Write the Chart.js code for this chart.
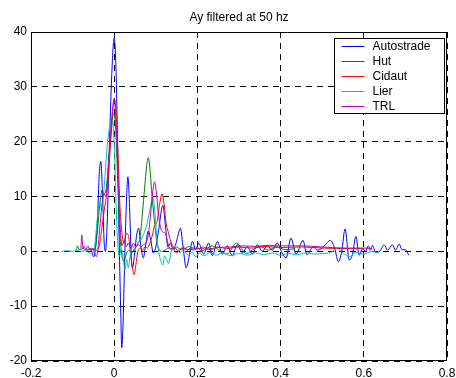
<!DOCTYPE html>
<html>
<head>
<meta charset="utf-8">
<script src="https://cdn.jsdelivr.net/npm/chart.js@4.4.1/dist/chart.umd.min.js"></script>
<style>
  html, body { margin: 0; padding: 0; background: #fff; }
  #wrap { width: 456px; height: 378px; }
</style>
</head>
<body>
<div id="wrap"><canvas id="chart" width="456" height="378"></canvas></div>
<script>
const titleText = 'Ay filtered at 50 hz';
const seriesNames = ['Autostrade', 'Hut', 'Cidaut', 'Lier', 'TRL'];
const seriesColors = ['#0000ff', '#008000', '#ff0000', '#00bfbf', '#bf00bf'];
const xTickLabels = ['-0.2', '0', '0.2', '0.4', '0.6', '0.8'];
const yTickLabels = ['-20', '-10', '0', '10', '20', '30', '40'];

// [time (s), Ay] samples for each test
const autostrade = [
  [-0.065, 0.2], [-0.058, 0.5], [-0.054, 0.0], [-0.050, -1.0], [-0.045, 0.5], [-0.040, 6], [-0.036, 14], [-0.032, 16.4],
  [-0.028, 10], [-0.024, 1.5], [-0.021, 0], [-0.017, 5], [-0.012, 18], [-0.006, 32], [0, 38.9], [0.004, 34],
  [0.008, 20], [0.012, 2], [0.016, -12], [0.018, -17.6], [0.021, -14], [0.025, -2], [0.028, 6], [0.033, 13.6],
  [0.037, 8], [0.041, -1], [0.044, -3], [0.049, -0.5], [0.054, 3], [0.059, 4.2], [0.064, 1], [0.070, -1.2],
  [0.075, 0.8], [0.082, 3.7], [0.088, 2], [0.094, -0.3], [0.100, 0.8], [0.107, 4], [0.117, 8.4], [0.124, 4],
  [0.129, 0.8], [0.135, 1.5], [0.141, 0.5], [0.147, 1.1], [0.152, 2.5], [0.159, 4.2], [0.166, 0.5], [0.173, -3],
  [0.180, -1], [0.188, 1.8], [0.196, 0.3], [0.203, 1.5], [0.215, -0.5], [0.227, 1.5], [0.236, -0.8], [0.248, 1.8],
  [0.260, -0.5], [0.272, 1.0], [0.284, -0.8], [0.296, 1.2], [0.308, -0.3], [0.320, 0.8], [0.332, -0.5], [0.344, 1.2],
  [0.356, 0.0], [0.368, 1.0], [0.380, 0.2], [0.392, 1.5], [0.403, -0.2], [0.413, -1.2], [0.425, 2.4], [0.437, -0.5],
  [0.454, 2.0], [0.463, -0.6], [0.478, 0.8], [0.489, 0.2], [0.504, 0.9], [0.520, 2.0], [0.530, 0.5], [0.539, -1.9],
  [0.547, 0.0], [0.555, 4.1], [0.565, -1.6], [0.573, -0.5], [0.581, 2.7], [0.589, -0.7], [0.597, 0.5], [0.604, 0.0],
  [0.611, 1.0], [0.616, 0.2], [0.621, 1.1], [0.628, -0.2], [0.638, 0.0], [0.649, 1.2], [0.657, 0.2], [0.669, 1.2],
  [0.676, 0.2], [0.685, 1.3], [0.692, 0.3], [0.700, 0.3], [0.708, -0.7]
];

const hut = [
  [-0.091, 0.3], [-0.088, 1.0], [-0.084, 0.3], [-0.075, 0.5], [-0.066, 0.2], [-0.058, 0.4], [-0.050, 0.3], [-0.045, 0.8],
  [-0.040, 4], [-0.034, 9], [-0.029, 11.2], [-0.025, 10.5], [-0.020, 11], [-0.014, 16], [-0.007, 22], [-0.002, 25],
  [0.003, 23], [0.008, 14], [0.013, 4], [0.018, -0.5], [0.023, -1.8], [0.029, -0.5], [0.035, 0.2], [0.042, -0.3],
  [0.049, 0.5], [0.056, 1.2], [0.062, 2.5], [0.068, 7], [0.073, 11.5], [0.078, 15.5], [0.082, 17.1], [0.086, 15],
  [0.091, 10], [0.096, 6], [0.102, 2], [0.107, 0.5], [0.114, 0], [0.122, 0.2], [0.130, 0.6], [0.140, 0.3],
  [0.150, 0.8], [0.160, 0.4], [0.170, 0.5], [0.180, 0.9], [0.190, 0.2], [0.200, 0.6], [0.210, 0.1], [0.222, 0.5],
  [0.236, 1.0], [0.250, 0.3], [0.271, -0.5], [0.294, 1.5], [0.318, -0.4], [0.337, 0.5], [0.354, 0.8], [0.370, 0.2],
  [0.389, 0.8], [0.413, 0.3], [0.435, 0.5]
];

const cidaut = [
  [-0.060, 0.3], [-0.050, 0.5], [-0.042, 0.2], [-0.036, 1], [-0.030, 4], [-0.024, 7.5], [-0.018, 10.5], [-0.012, 16],
  [-0.006, 23], [0, 27.9], [0.004, 26], [0.009, 18], [0.014, 8], [0.019, 3], [0.023, 1.5], [0.030, 3.3],
  [0.035, 2.5], [0.040, -1], [0.045, -3.5], [0.048, -4.3], [0.052, -2.5], [0.057, 0], [0.062, 0.6], [0.068, 0.2],
  [0.074, 0.8], [0.080, 0.6], [0.086, 1.5], [0.092, 3], [0.096, 4.5], [0.103, 5.4], [0.109, 8.5], [0.115, 10.5],
  [0.120, 8.5], [0.125, 5], [0.130, 3.5], [0.136, 1.8], [0.142, 0.8], [0.150, -0.3], [0.158, 0.3], [0.166, 0.8],
  [0.175, 0.2], [0.185, 0.7], [0.200, 0.4], [0.215, 0.8], [0.230, 0.3], [0.250, 0.8], [0.270, 0.5], [0.300, 0.8],
  [0.330, 0.6], [0.360, 0.9], [0.400, 0.7], [0.450, 0.8], [0.500, 0.6], [0.550, 0.5], [0.600, 0.5]
];

const lier = [
  [-0.127, 0], [-0.115, 0.1], [-0.100, 0], [-0.090, 0.2], [-0.080, 0], [-0.070, 0.1], [-0.060, -0.3], [-0.054, -0.5],
  [-0.048, 0.5], [-0.043, 4], [-0.038, 8], [-0.034, 9], [-0.030, 7.5], [-0.026, 10], [-0.020, 16], [-0.016, 20],
  [-0.010, 23], [-0.005, 24], [0, 20], [0.004, 10], [0.008, 2], [0.012, -1], [0.017, 0.5], [0.022, -1.5],
  [0.026, -3.4], [0.030, -1.5], [0.034, -3.0], [0.038, -1], [0.043, 1.0], [0.050, 0.4], [0.056, 1.5], [0.063, 2],
  [0.070, 3], [0.077, 4.5], [0.083, 6.5], [0.088, 8.5], [0.093, 10], [0.098, 7], [0.103, 2], [0.108, -0.5],
  [0.113, -2], [0.117, -2.5], [0.121, -0.8], [0.126, -1.5], [0.131, -2.2], [0.137, 0], [0.143, 0.8], [0.150, 0.3],
  [0.158, -0.2], [0.166, 0.2], [0.178, -0.7], [0.188, -0.2], [0.196, -1], [0.205, -0.3], [0.215, -0.8], [0.230, -0.2],
  [0.245, -0.7], [0.260, -0.3], [0.280, -0.8], [0.300, -0.4], [0.320, -0.7], [0.340, -0.3], [0.360, -0.6], [0.380, -0.3],
  [0.400, -0.7], [0.420, -0.4], [0.440, -0.6], [0.460, -0.3], [0.480, -0.5], [0.500, -0.4], [0.520, -0.2], [0.535, 0.5],
  [0.550, -0.3], [0.565, -1], [0.580, -0.2], [0.600, -0.5], [0.620, 0], [0.635, -0.3]
];

const trl = [
  [-0.080, 0.5], [-0.078, 3], [-0.075, 0.5], [-0.072, 1], [-0.068, 0.3], [-0.063, 1], [-0.058, 0.2], [-0.052, 0.5],
  [-0.046, -0.5], [-0.043, -1.0], [-0.039, 0.5], [-0.035, 4], [-0.030, 8], [-0.025, 10.6], [-0.021, 10], [-0.017, 12],
  [-0.011, 19], [-0.005, 25], [0, 27.6], [0.004, 24], [0.009, 14], [0.014, 5], [0.019, 1], [0.024, 2],
  [0.029, 0.8], [0.034, 1.5], [0.040, 0.5], [0.046, 1.5], [0.052, 0.8], [0.058, 1.2], [0.064, 0.8], [0.070, 1.2],
  [0.076, 1.5], [0.082, 3], [0.088, 7.2], [0.093, 11], [0.097, 12.7], [0.101, 11], [0.106, 7], [0.111, 4.5],
  [0.117, 3.5], [0.123, 3.3], [0.129, 1.5], [0.135, 0.5], [0.145, 0.6], [0.155, 0.2], [0.165, 0.5], [0.180, 0.3],
  [0.200, 0.6], [0.220, 0.4], [0.250, 0.7], [0.280, 0.8], [0.310, 1.0], [0.340, 0.9], [0.370, 1.1], [0.400, 1.0],
  [0.450, 1.0], [0.500, 0.8], [0.550, 0.6], [0.600, 0.6], [0.620, 0.5]
];

const allSeries = [autostrade, hut, cidaut, lier, trl];
const fontFamily = '"Liberation Sans", Arial, sans-serif';

// axes box, title and boxed legend drawn the old matlab way
const matlabFrame = {
  id: 'matlabFrame',
  afterDraw(chart) {
    const { ctx, chartArea: a } = chart;
    ctx.save();
    ctx.strokeStyle = '#000';
    ctx.lineWidth = 1;
    ctx.setLineDash([]);
    ctx.strokeRect(Math.round(a.left) + 0.5, Math.round(a.top) + 0.5,
      Math.round(a.right - a.left) - 1, Math.round(a.bottom - a.top) - 1);

    ctx.fillStyle = '#000';
    ctx.font = '12px ' + fontFamily;
    ctx.textAlign = 'center';
    ctx.textBaseline = 'middle';
    ctx.fillText(titleText, (a.left + a.right) / 2, 18);

    // legend box in the top right corner
    const bx = Math.round(a.right) - 112.5, by = Math.round(a.top) + 6.5;
    const bw = 110, bh = 75, rowH = 14.9;
    ctx.fillStyle = '#fff';
    ctx.fillRect(bx, by, bw, bh);
    ctx.strokeRect(bx, by, bw, bh);
    ctx.textAlign = 'left';
    chart.data.datasets.forEach((ds, i) => {
      const y = Math.round(by + 7.5 + i * rowH) + 0.5;
      ctx.strokeStyle = ds.borderColor;
      ctx.beginPath();
      ctx.moveTo(bx + 7, y);
      ctx.lineTo(bx + 30, y);
      ctx.stroke();
      ctx.fillStyle = '#000';
      ctx.fillText(ds.label, bx + 38, y);
    });
    ctx.restore();
  }
};

const datasets = seriesNames.map((name, i) => ({
  label: name,
  data: allSeries[i].map(p => ({ x: p[0], y: p[1] })),
  borderColor: seriesColors[i],
  borderWidth: 1,
  pointRadius: 0,
  cubicInterpolationMode: 'monotone',
  fill: false,
  order: seriesNames.length - i
}));

new Chart(document.getElementById('chart').getContext('2d'), {
  type: 'line',
  data: { datasets: datasets },
  options: {
    responsive: false,
    animation: false,
    layout: { padding: { top: 32, right: 9, left: 0, bottom: 0 } },
    plugins: {
      legend: { display: false },
      title: { display: false },
      tooltip: { enabled: false }
    },
    scales: {
      x: {
        type: 'linear',
        min: -0.2,
        max: 0.8,
        ticks: {
          stepSize: 0.2,
          autoSkip: false,
          maxRotation: 0,
          padding: 5,
          color: '#000',
          font: { family: fontFamily, size: 12 },
          callback: (v, i) => xTickLabels[i]
        },
        grid: { color: '#000', lineWidth: 1, drawTicks: false },
        border: { display: false, dash: [6, 5] },
        // the last label may hang off the right edge, as it does in the old figure
        afterFit: s => { s.height = 17; s.paddingLeft = 0; s.paddingRight = 0; }
      },
      y: {
        type: 'linear',
        min: -20,
        max: 40,
        ticks: {
          stepSize: 10,
          padding: 4,
          color: '#000',
          font: { family: fontFamily, size: 12 },
          callback: (v, i) => yTickLabels[i]
        },
        grid: { color: '#000', lineWidth: 1, drawTicks: false },
        border: { display: false, dash: [6, 5] },
        afterFit: s => { s.width = 31; s.paddingTop = 0; s.paddingBottom = 0; }
      }
    }
  },
  plugins: [matlabFrame]
});
</script>
</body>
</html>
